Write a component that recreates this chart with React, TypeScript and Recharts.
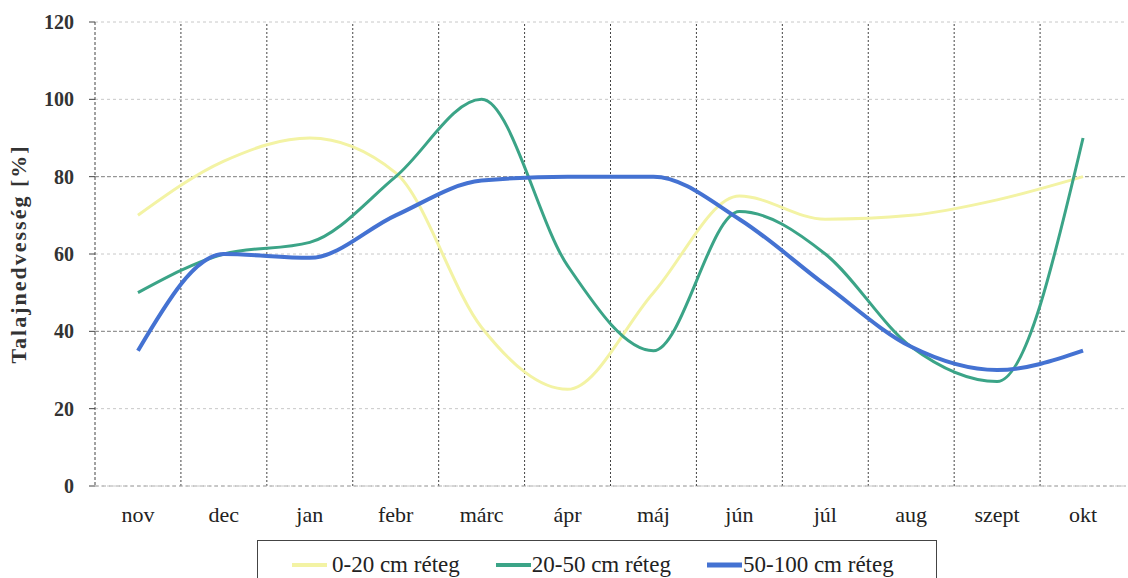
import { LineChart, Line, XAxis, YAxis, CartesianGrid, ReferenceLine, Legend } from 'recharts';

const months = ['nov', 'dec', 'jan', 'febr', 'márc', 'ápr', 'máj', 'jún', 'júl', 'aug', 'szept', 'okt'];
const layerTop = [70, 84, 90, 81, 41, 25, 50, 75, 69, 70, 74, 80];
const layerMid = [50, 60, 63, 80, 100, 57, 35, 71, 60, 36, 27, 90];
const layerDeep = [35, 60, 59, 70, 79, 80, 80, 69, 52, 36, 30, 35];
const yTicks = [0, 20, 40, 60, 80, 100, 120];

const data = months.map((m, i) => ({
  idx: i,
  month: m,
  top: layerTop[i],
  mid: layerMid[i],
  deep: layerDeep[i],
}));

// separators between month categories
const boundaries = months.slice(1).map((_, i) => i + 0.5);

const serif = 'Liberation Serif, Times New Roman, serif';

function BoxLegend(props: any) {
  const items = props.payload || [];
  return (
    <div
      style={{
        height: 50,
        boxSizing: 'border-box',
        border: '1.5px solid #444',
        display: 'flex',
        alignItems: 'center',
        paddingLeft: 34,
        overflow: 'hidden',
        whiteSpace: 'nowrap',
        fontFamily: serif,
        fontSize: 23,
        color: '#222',
      }}
    >
      {items.map((it: any, i: number) => (
        <div
          key={i}
          style={{ display: 'flex', alignItems: 'center', flexShrink: 0, marginRight: 36 }}
        >
          <svg width={35} height={10} style={{ marginRight: i === 0 ? 5 : 1 }}>
            <line x1={0} y1={5} x2={35} y2={5} stroke={it.color} strokeWidth={i === 2 ? 5 : 4} />
          </svg>
          <span style={{ whiteSpace: 'nowrap' }}>{it.value}</span>
        </div>
      ))}
    </div>
  );
}

export default function App() {
  return (
    <div style={{ position: 'absolute', left: 0, top: 0, background: '#fff' }}>
      <LineChart
        width={1128}
        height={578}
        data={data}
        margin={{ top: 22, right: 2, bottom: 12, left: 16 }}
      >
        <CartesianGrid vertical={false} stroke="#c8c8c8" strokeDasharray="3 3" />
        <ReferenceLine y={40} stroke="#8a8a8a" strokeDasharray="4 2" />
        <ReferenceLine y={80} stroke="#8a8a8a" strokeDasharray="4 2" />
        {boundaries.map((b) => (
          <ReferenceLine key={b} x={b} stroke="#444" strokeDasharray="2 2" />
        ))}
        <XAxis
          dataKey="idx"
          type="number"
          domain={[-0.5, months.length - 0.5]}
          ticks={months.map((_, i) => i)}
          tickFormatter={(i: number) => months[i]}
          axisLine={{ stroke: '#aaa', strokeDasharray: '4 3' }}
          tickLine={false}
          tickSize={6}
          tickMargin={14}
          tick={{ fill: '#222', fontFamily: serif, fontSize: 22 }}
        />
        <YAxis
          width={79}
          domain={[0, 120]}
          ticks={yTicks}
          axisLine={{ stroke: '#444', strokeDasharray: '3 2' }}
          tickLine={{ stroke: '#444' }}
          tickSize={6}
          tickMargin={15}
          tick={{ fill: '#333', fontFamily: serif, fontSize: 20, fontWeight: 'bold' }}
          label={{
            value: 'Talajnedvesség [%]',
            angle: -90,
            position: 'insideLeft',
            offset: 2,
            style: {
              textAnchor: 'middle',
              fontFamily: serif,
              fontSize: 22,
              fontWeight: 'bold',
              letterSpacing: 2,
              fill: '#333',
            },
          }}
        />
        <Legend
          verticalAlign="bottom"
          content={<BoxLegend />}
          wrapperStyle={{ left: 257, width: 680, bottom: -12 }}
        />
        <Line
          type="monotone"
          dataKey="top"
          name="0-20 cm réteg"
          stroke="#f3f3a4"
          strokeWidth={3}
          dot={false}
          isAnimationActive={false}
        />
        <Line
          type="monotone"
          dataKey="mid"
          name="20-50 cm réteg"
          stroke="#3ba487"
          strokeWidth={3}
          dot={false}
          isAnimationActive={false}
        />
        <Line
          type="monotone"
          dataKey="deep"
          name="50-100 cm réteg"
          stroke="#4472d2"
          strokeWidth={4}
          dot={false}
          isAnimationActive={false}
        />
      </LineChart>
    </div>
  );
}
